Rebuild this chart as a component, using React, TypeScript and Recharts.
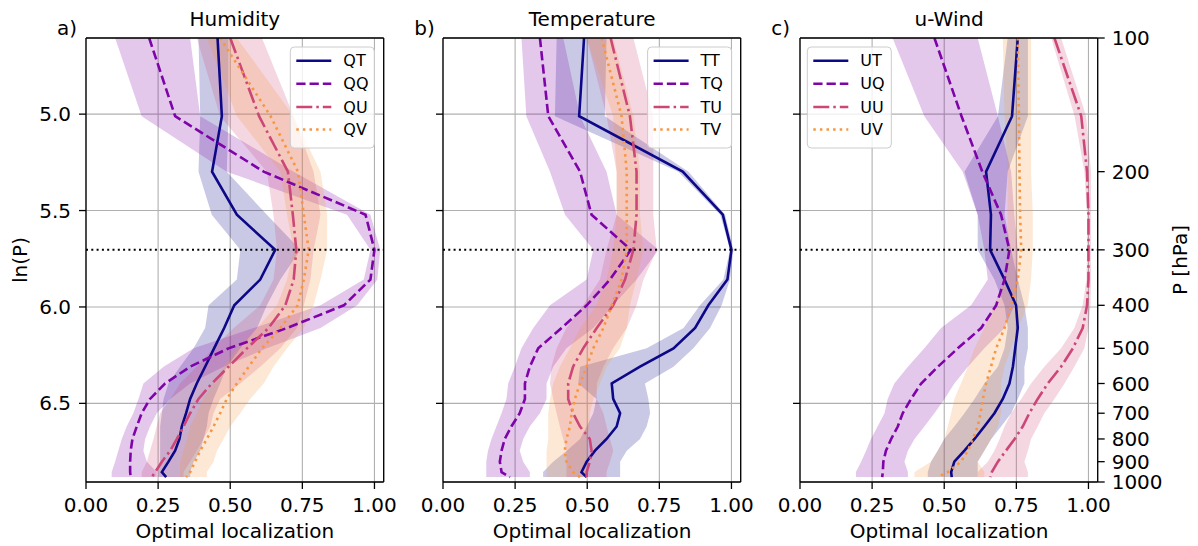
import React from 'react';
import { ComposedChart, Line, Area, XAxis, YAxis, CartesianGrid, ReferenceLine } from 'recharts';

// ---------- data ----------
const PRESSURE_LEVELS = [100, 150, 200, 250, 300, 350, 400, 450, 500, 550, 600, 650, 700, 750, 800, 850, 900, 950, 975];
const X_TICKS = [0, 0.25, 0.5, 0.75, 1];
const LNP_TICKS = [5.0, 5.5, 6.0, 6.5];
const HPA_TICKS = [100, 200, 300, 400, 500, 600, 700, 800, 900, 1000];
const TROPOPAUSE_HPA = 300;

// a) Humidity
const QT_MEAN = [0.456, 0.471, 0.437, 0.523, 0.656, 0.604, 0.514, 0.479, 0.444, 0.413, 0.384, 0.361, 0.347, 0.332, 0.324, 0.309, 0.286, 0.263, 0.278];
const QT_LO = [0.39, 0.396, 0.39, 0.436, 0.535, 0.523, 0.425, 0.413, 0.373, 0.326, 0.286, 0.269, 0.263, 0.257, 0.257, 0.257, 0.257, 0.251, 0.251];
const QT_HI = [0.494, 0.494, 0.488, 0.627, 0.743, 0.674, 0.627, 0.593, 0.535, 0.488, 0.465, 0.442, 0.425, 0.419, 0.407, 0.396, 0.373, 0.361, 0.361];
const QQ_MEAN = [0.219, 0.309, 0.616, 0.969, 1.0, 0.986, 0.894, 0.697, 0.494, 0.361, 0.274, 0.222, 0.193, 0.176, 0.161, 0.155, 0.153, 0.153, 0.155];
const QQ_LO = [0.101, 0.193, 0.488, 0.905, 0.986, 0.963, 0.813, 0.581, 0.373, 0.269, 0.199, 0.182, 0.164, 0.141, 0.124, 0.112, 0.101, 0.089, 0.089];
const QQ_HI = [0.361, 0.396, 0.72, 0.986, 1.02, 1.01, 0.94, 0.813, 0.627, 0.477, 0.361, 0.292, 0.245, 0.222, 0.205, 0.199, 0.211, 0.245, 0.245];
const QU_MEAN = [0.5, 0.6, 0.7, 0.717, 0.729, 0.72, 0.691, 0.633, 0.558, 0.494, 0.436, 0.39, 0.361, 0.338, 0.315, 0.292, 0.263, 0.24, 0.228];
const QU_LO = [0.384, 0.465, 0.627, 0.65, 0.662, 0.65, 0.604, 0.512, 0.442, 0.384, 0.326, 0.292, 0.257, 0.245, 0.234, 0.222, 0.211, 0.193, 0.193];
const QU_HI = [0.61, 0.72, 0.789, 0.813, 0.789, 0.778, 0.755, 0.731, 0.674, 0.604, 0.535, 0.465, 0.442, 0.431, 0.407, 0.384, 0.361, 0.338, 0.338];
const QV_MEAN = [0.465, 0.64, 0.735, 0.755, 0.772, 0.755, 0.734, 0.674, 0.61, 0.564, 0.523, 0.488, 0.465, 0.442, 0.419, 0.396, 0.378, 0.361, 0.347];
const QV_LO = [0.419, 0.523, 0.674, 0.697, 0.72, 0.697, 0.662, 0.593, 0.523, 0.477, 0.442, 0.407, 0.384, 0.361, 0.35, 0.338, 0.326, 0.326, 0.326];
const QV_HI = [0.523, 0.72, 0.813, 0.836, 0.836, 0.813, 0.789, 0.755, 0.697, 0.65, 0.616, 0.569, 0.535, 0.5, 0.477, 0.454, 0.442, 0.419, 0.419];

// b) Temperature
const TT_MEAN = [0.489, 0.472, 0.831, 0.97, 1.0, 0.986, 0.92, 0.874, 0.799, 0.683, 0.585, 0.59, 0.614, 0.602, 0.567, 0.527, 0.498, 0.48, 0.498];
const TT_LO = [0.394, 0.388, 0.816, 0.961, 0.995, 0.972, 0.891, 0.834, 0.706, 0.475, 0.469, 0.532, 0.521, 0.498, 0.475, 0.429, 0.382, 0.347, 0.347];
const TT_HI = [0.567, 0.561, 0.851, 0.978, 1.007, 0.995, 0.966, 0.926, 0.868, 0.799, 0.7, 0.712, 0.718, 0.706, 0.683, 0.637, 0.614, 0.614, 0.614];
const TQ_MEAN = [0.336, 0.365, 0.475, 0.515, 0.651, 0.579, 0.498, 0.411, 0.33, 0.301, 0.284, 0.284, 0.266, 0.237, 0.214, 0.203, 0.197, 0.203, 0.232];
const TQ_LO = [0.272, 0.289, 0.371, 0.423, 0.521, 0.498, 0.371, 0.313, 0.272, 0.249, 0.226, 0.22, 0.203, 0.185, 0.168, 0.156, 0.15, 0.15, 0.15];
const TQ_HI = [0.417, 0.475, 0.567, 0.602, 0.747, 0.671, 0.59, 0.521, 0.428, 0.382, 0.359, 0.359, 0.336, 0.301, 0.278, 0.266, 0.278, 0.301, 0.301];
const TU_MEAN = [0.581, 0.648, 0.671, 0.671, 0.66, 0.631, 0.59, 0.533, 0.486, 0.451, 0.434, 0.434, 0.451, 0.475, 0.509, 0.515, 0.509, 0.498, 0.498];
const TU_LO = [0.498, 0.567, 0.602, 0.602, 0.567, 0.544, 0.486, 0.428, 0.394, 0.376, 0.371, 0.382, 0.394, 0.405, 0.417, 0.428, 0.428, 0.428, 0.428];
const TU_HI = [0.66, 0.729, 0.729, 0.729, 0.741, 0.695, 0.671, 0.637, 0.59, 0.556, 0.533, 0.533, 0.556, 0.567, 0.579, 0.59, 0.579, 0.567, 0.567];
const TV_MEAN = [0.55, 0.619, 0.637, 0.637, 0.637, 0.619, 0.585, 0.556, 0.521, 0.498, 0.475, 0.457, 0.446, 0.44, 0.428, 0.422, 0.428, 0.451, 0.475];
const TV_LO = [0.498, 0.59, 0.602, 0.602, 0.59, 0.567, 0.532, 0.475, 0.44, 0.405, 0.382, 0.371, 0.365, 0.365, 0.365, 0.359, 0.359, 0.359, 0.359];
const TV_HI = [0.59, 0.66, 0.683, 0.683, 0.694, 0.671, 0.648, 0.637, 0.613, 0.567, 0.544, 0.521, 0.509, 0.509, 0.498, 0.498, 0.498, 0.498, 0.498];

// c) u-Wind
const UT_MEAN = [0.755, 0.735, 0.645, 0.662, 0.659, 0.709, 0.749, 0.755, 0.746, 0.738, 0.726, 0.703, 0.674, 0.639, 0.605, 0.57, 0.535, 0.524, 0.526];
const UT_LO = [0.72, 0.686, 0.57, 0.616, 0.616, 0.674, 0.709, 0.72, 0.709, 0.686, 0.639, 0.605, 0.57, 0.535, 0.5, 0.477, 0.454, 0.443, 0.443];
const UT_HI = [0.79, 0.79, 0.72, 0.709, 0.732, 0.755, 0.778, 0.79, 0.79, 0.778, 0.778, 0.755, 0.732, 0.697, 0.663, 0.639, 0.616, 0.616, 0.616];
const UQ_MEAN = [0.466, 0.56, 0.632, 0.697, 0.726, 0.709, 0.68, 0.628, 0.547, 0.478, 0.42, 0.385, 0.356, 0.339, 0.316, 0.298, 0.289, 0.287, 0.285];
const UQ_LO = [0.321, 0.431, 0.564, 0.616, 0.639, 0.651, 0.593, 0.489, 0.431, 0.374, 0.327, 0.304, 0.293, 0.269, 0.246, 0.229, 0.212, 0.194, 0.194];
const UQ_HI = [0.616, 0.686, 0.732, 0.743, 0.755, 0.755, 0.743, 0.709, 0.639, 0.582, 0.535, 0.501, 0.466, 0.431, 0.397, 0.374, 0.362, 0.374, 0.374];
const UU_MEAN = [0.882, 0.975, 0.995, 1.0, 1.0, 1.0, 0.995, 0.98, 0.946, 0.905, 0.859, 0.824, 0.795, 0.772, 0.744, 0.714, 0.686, 0.665, 0.66];
const UU_LO = [0.871, 0.952, 0.986, 0.995, 0.995, 0.993, 0.98, 0.951, 0.905, 0.847, 0.801, 0.767, 0.732, 0.709, 0.692, 0.674, 0.651, 0.616, 0.616];
const UU_HI = [0.905, 0.992, 1.009, 1.009, 1.009, 1.009, 1.007, 1.0, 0.986, 0.951, 0.917, 0.882, 0.847, 0.824, 0.801, 0.79, 0.778, 0.79, 0.79];
const UV_MEAN = [0.755, 0.759, 0.761, 0.763, 0.767, 0.755, 0.732, 0.709, 0.68, 0.662, 0.645, 0.634, 0.626, 0.616, 0.599, 0.582, 0.558, 0.512, 0.477];
const UV_LO = [0.703, 0.709, 0.72, 0.72, 0.72, 0.709, 0.674, 0.639, 0.605, 0.582, 0.558, 0.535, 0.524, 0.512, 0.501, 0.478, 0.454, 0.397, 0.397];
const UV_HI = [0.801, 0.801, 0.801, 0.807, 0.807, 0.801, 0.789, 0.755, 0.732, 0.709, 0.697, 0.697, 0.697, 0.686, 0.663, 0.639, 0.616, 0.639, 0.639];

// ---------- styles ----------
const FONT = 'DejaVu Sans, sans-serif';
const C_T = '#0d0887';
const C_Q = '#7e03a8';
const C_U = '#cc4778';
const C_V = '#f89540';
const DASH_T = undefined;
const DASH_Q = '9.25 4';
const DASH_U = '16 4 2.5 4';
const DASH_V = '2.5 4.1';
const LW = 2.6;

const PLOT_TOP = 38;
const PLOT_W = 297.7;
const X_MAX = 1.032;
const LN_MIN = Math.log(100);
const LN_MAX = Math.log(1000);

type Series = { name: string; mean: number[]; lo: number[]; hi: number[]; color: string; dash?: string };
type PanelCfg = { title: string; letter: string; plotLeft: number; legendLeft: number; series: Series[] };

const PANELS: PanelCfg[] = [
  {
    title: 'Humidity', letter: 'a)', plotLeft: 86, legendLeft: 290.3,
    series: [
      { name: 'QT', mean: QT_MEAN, lo: QT_LO, hi: QT_HI, color: C_T, dash: DASH_T },
      { name: 'QQ', mean: QQ_MEAN, lo: QQ_LO, hi: QQ_HI, color: C_Q, dash: DASH_Q },
      { name: 'QU', mean: QU_MEAN, lo: QU_LO, hi: QU_HI, color: C_U, dash: DASH_U },
      { name: 'QV', mean: QV_MEAN, lo: QV_LO, hi: QV_HI, color: C_V, dash: DASH_V },
    ],
  },
  {
    title: 'Temperature', letter: 'b)', plotLeft: 443.3, legendLeft: 647.6,
    series: [
      { name: 'TT', mean: TT_MEAN, lo: TT_LO, hi: TT_HI, color: C_T, dash: DASH_T },
      { name: 'TQ', mean: TQ_MEAN, lo: TQ_LO, hi: TQ_HI, color: C_Q, dash: DASH_Q },
      { name: 'TU', mean: TU_MEAN, lo: TU_LO, hi: TU_HI, color: C_U, dash: DASH_U },
      { name: 'TV', mean: TV_MEAN, lo: TV_LO, hi: TV_HI, color: C_V, dash: DASH_V },
    ],
  },
  {
    title: 'u-Wind', letter: 'c)', plotLeft: 800.3, legendLeft: 807.3,
    series: [
      { name: 'UT', mean: UT_MEAN, lo: UT_LO, hi: UT_HI, color: C_T, dash: DASH_T },
      { name: 'UQ', mean: UQ_MEAN, lo: UQ_LO, hi: UQ_HI, color: C_Q, dash: DASH_Q },
      { name: 'UU', mean: UU_MEAN, lo: UU_LO, hi: UU_HI, color: C_U, dash: DASH_U },
      { name: 'UV', mean: UV_MEAN, lo: UV_LO, hi: UV_HI, color: C_V, dash: DASH_V },
    ],
  },
];

function buildRows(series: Series[]) {
  return PRESSURE_LEVELS.map((p, i) => {
    const row: Record<string, any> = { lnp: Math.log(p) };
    series.forEach((s) => {
      row[s.name] = s.mean[i];
      row[s.name + '_band'] = [s.lo[i], s.hi[i]];
    });
    return row;
  });
}

const tickStyle = { fontSize: 20, fill: '#000', fontFamily: FONT };
const axisLineStyle = { stroke: '#000', strokeWidth: 1.3 };

function Panel({ cfg, index }: { cfg: PanelCfg; index: number }) {
  const first = index === 0;
  const last = index === PANELS.length - 1;
  const axisW = first ? 86 : 70;
  const rightW = last ? 1198 - (cfg.plotLeft + PLOT_W) : 25;
  const chartLeft = cfg.plotLeft - axisW;
  const width = axisW + PLOT_W + rightW;
  const rows = buildRows(cfg.series);
  return (
    <div style={{ position: 'absolute', left: chartLeft, top: 0 }}>
      <ComposedChart
        width={width}
        height={546}
        data={rows}
        layout="vertical"
        margin={{ top: PLOT_TOP, right: last ? 0 : rightW, bottom: 0, left: 0 }}
      >
        <CartesianGrid stroke="#b0b0b0" strokeWidth={1.1} />
        <XAxis
          type="number"
          domain={[0, X_MAX]}
          allowDataOverflow
          ticks={X_TICKS}
          interval={0}
          tickFormatter={(v: number) => v.toFixed(2)}
          height={64}
          tickSize={7}
          tickMargin={9}
          tick={tickStyle}
          axisLine={axisLineStyle}
          tickLine={axisLineStyle}
        />
        <YAxis
          type="number"
          dataKey="lnp"
          domain={[LN_MIN, LN_MAX]}
          allowDataOverflow
          ticks={LNP_TICKS}
          interval={0}
          tickFormatter={first ? (v: number) => v.toFixed(1) : () => ''}
          width={axisW}
          tickSize={7}
          tickMargin={8}
          tick={tickStyle}
          axisLine={axisLineStyle}
          tickLine={axisLineStyle}
        />
        {last && (
          <YAxis
            yAxisId="hpa"
            orientation="right"
            type="number"
            dataKey="lnp"
            domain={[LN_MIN, LN_MAX]}
            allowDataOverflow
            ticks={HPA_TICKS.map((p) => Math.log(p))}
            interval={0}
            tickFormatter={(v: number) => String(Math.round(Math.exp(v)))}
            width={rightW}
            tickSize={7}
            tickMargin={7}
            tick={tickStyle}
            axisLine={axisLineStyle}
            tickLine={axisLineStyle}
          />
        )}
        {cfg.series.map((s) => (
          <Area
            key={s.name + '_band'}
            dataKey={s.name + '_band'}
            type="linear"
            stroke="none"
            fill={s.color}
            fillOpacity={0.22}
            dot={false}
            activeDot={false}
            isAnimationActive={false}
          />
        ))}
        {cfg.series.map((s) => (
          <Line
            key={s.name}
            dataKey={s.name}
            type="linear"
            stroke={s.color}
            strokeWidth={LW}
            strokeDasharray={s.dash}
            dot={false}
            activeDot={false}
            isAnimationActive={false}
          />
        ))}
        <ReferenceLine y={Math.log(TROPOPAUSE_HPA)} stroke="#000" strokeWidth={2} strokeDasharray="2 3.3" ifOverflow="visible" />
        <ReferenceLine y={LN_MIN} stroke="#000" strokeWidth={1.3} ifOverflow="visible" />
        {!last && <ReferenceLine x={X_MAX} stroke="#000" strokeWidth={1.3} ifOverflow="visible" />}
      </ComposedChart>
    </div>
  );
}

const LEGEND_ROWS = [13.7, 36.7, 60, 82.5];

function Overlay() {
  return (
    <svg width={1198} height={546} style={{ position: 'absolute', left: 0, top: 0, pointerEvents: 'none' }} fontFamily={FONT}>
      {PANELS.map((cfg) => {
        const cx = cfg.plotLeft + PLOT_W / 2;
        const L = cfg.legendLeft;
        return (
          <g key={cfg.title}>
            <text x={cx} y={26} fontSize={20} textAnchor="middle" fill="#000">{cfg.title}</text>
            <text x={cfg.plotLeft - 29} y={35} fontSize={20} fill="#000">{cfg.letter}</text>
            <text x={cx} y={538} fontSize={20} textAnchor="middle" fill="#000">Optimal localization</text>
            <rect x={L} y={47} width={84} height={101} rx={4} ry={4} fill="#fff" fillOpacity={0.8} stroke="#cccccc" strokeWidth={1} />
            {cfg.series.map((s, i) => (
              <g key={s.name}>
                <line x1={L + 6} x2={L + 41} y1={47 + LEGEND_ROWS[i]} y2={47 + LEGEND_ROWS[i]} stroke={s.color} strokeWidth={LW} strokeDasharray={s.dash} />
                <text x={L + 53} y={47 + LEGEND_ROWS[i]} fontSize={16} dominantBaseline="central" fill="#000">{s.name}</text>
              </g>
            ))}
          </g>
        );
      })}
      <text x={20} y={260} fontSize={20} textAnchor="middle" dominantBaseline="central" transform="rotate(-90, 20, 260)" fill="#000">ln(P)</text>
      <text x={1180} y={260} fontSize={20} textAnchor="middle" dominantBaseline="central" transform="rotate(-90, 1180, 260)" fill="#000">P [hPa]</text>
    </svg>
  );
}

export default function App() {
  return (
    <div style={{ position: 'absolute', left: 0, top: 0, width: 1198, height: 546, background: '#fff', fontFamily: FONT }}>
      {PANELS.map((cfg, i) => (
        <Panel key={cfg.title} cfg={cfg} index={i} />
      ))}
      <Overlay />
    </div>
  );
}
